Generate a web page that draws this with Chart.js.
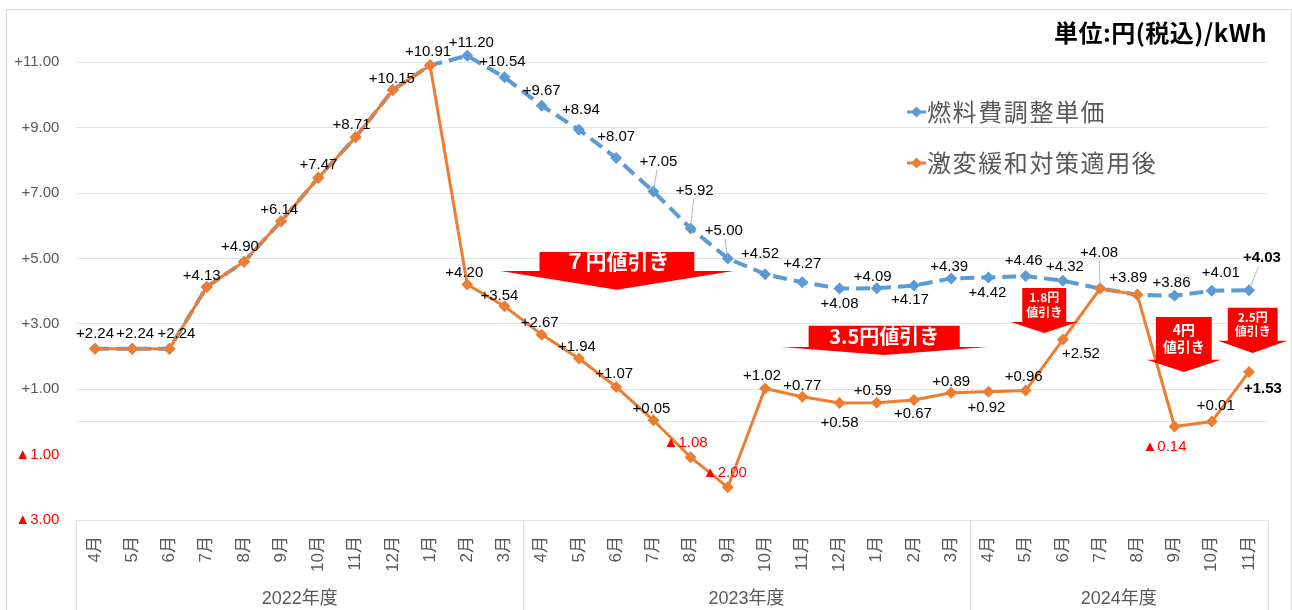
<!DOCTYPE html>
<html lang="ja">
<head>
<meta charset="utf-8">
<title>燃料費調整単価の推移</title>
<script src="https://cdn.jsdelivr.net/npm/chart.js@4.4.1/dist/chart.umd.min.js"></script>
<style>
  body { margin: 0; background: #fff; }
  #wrap { width: 1292px; height: 610px; }
</style>
</head>
<body>
<div id="wrap"><canvas id="myChart" width="1292" height="610"></canvas></div>
<script>
// dados do grafico
const meses = ['4月','5月','6月','7月','8月','9月','10月','11月','12月','1月','2月','3月',
               '4月','5月','6月','7月','8月','9月','10月','11月','12月','1月','2月','3月',
               '4月','5月','6月','7月','8月','9月','10月','11月'];
const anos = ['2022年度', '2023年度', '2024年度'];
const mesesPorAno = [12, 12, 8];

// 燃料費調整単価
const unitario = [2.24, 2.24, 2.24, 4.13, 4.90, 6.14, 7.47, 8.71, 10.15, 10.91,
                  11.20, 10.54, 9.67, 8.94, 8.07, 7.05, 5.92, 5.00, 4.52, 4.27, 4.08, 4.09,
                  4.17, 4.39, 4.42, 4.46, 4.32, 4.08, 3.89, 3.86, 4.01, 4.03];
// 激変緩和対策適用後
const aplicado = [2.24, 2.24, 2.24, 4.13, 4.90, 6.14, 7.47, 8.71, 10.15, 10.91,
                  4.20, 3.54, 2.67, 1.94, 1.07, 0.05, -1.08, -2.00, 1.02, 0.77, 0.58, 0.59,
                  0.67, 0.89, 0.92, 0.96, 2.52, 4.08, 3.89, -0.14, 0.01, 1.53];

const ticksY = [-3, -1, 0, 1, 3, 5, 7, 9, 11];
const nomes = ['燃料費調整単価', '激変緩和対策適用後'];
const unidade = '単位:円(税込)/kWh';

// onde fica cada rotulo em relacao ao ponto (px)
const posUnitario = [null, null, null, null, null, null, null, null, null, null,
  [4,-13], [-2,-15], [0,-15], [2,-20], [0,-21], [5,-30], [4,-38], [-4,-28], [-5,-20], [0,-18],
  [0,15], [-4,-11], [-4,14], [-2,-12], [-1,15], [-2,-15], [2,-14], null, null, [-3,-13], [9,-18], [13,-32]];
const posAplicado = [[0,-15], [3,-15], [7,-15], [-5,-11], [-4,-15], [-2,-11], [0,-13], [-4,-12], [-1,-11], [-2,-13],
  [-3,-12], [-5,-10], [-2,-12], [-2,-12], [-2,-13], [-2,-11], [-5,-14], [-3,-14], [-3,-13], [0,-11],
  [0,20], [-4,-12], [-1,14], [0,-11], [-2,16], [-2,-14], [18,14], [-1,-36], [-9,-17], [-10,20], [4,-16], [14,17]];

// setas de desconto (posicao em indice de mes / valor do eixo)
const setas = [
  { texto: ['７円値引き'], em: 14.02, topo: 5.2, base: 4.62, ponta: 4.04, meio: 2.08, cabeca: 3.13, fonte: 21 },
  { texto: ['3.5円値引き'], em: 21.2, topo: 2.94, base: 2.29, ponta: 2.05, meio: 2.03, cabeca: 2.77, fonte: 20 },
  { texto: ['1.8円', '値引き'], em: 25.5, topo: 4.1, base: 3.06, ponta: 2.72, meio: 0.59, cabeca: 0.9, fonte: 12 },
  { texto: ['4円', '値引き'], em: 29.25, topo: 3.21, base: 1.9, ponta: 1.53, meio: 0.75, cabeca: 1.0, fonte: 14 },
  { texto: ['2.5円', '値引き'], em: 31.1, topo: 3.49, base: 2.48, ponta: 2.11, meio: 0.67, cabeca: 0.93, fonte: 12 }
];

const azul = '#5B9BD5';
const laranja = '#ED7D31';
const cinza = '#595959';
const fonteNum = '"Liberation Sans", "Noto Sans CJK JP", sans-serif';
const fonteJp = '"Noto Sans CJK JP", sans-serif';

function formata(v) {
  return v < 0 ? '▲' + Math.abs(v).toFixed(2) : '+' + v.toFixed(2);
}

function losango(ctx, x, y, r, cor) {
  ctx.beginPath();
  ctx.moveTo(x, y - r); ctx.lineTo(x + r, y); ctx.lineTo(x, y + r); ctx.lineTo(x - r, y);
  ctx.closePath();
  ctx.fillStyle = cor;
  ctx.fill();
}

const desenho = {
  id: 'desenho',
  afterDatasetsDraw(chart) {
    const ctx = chart.ctx;
    const ex = chart.scales.x, ey = chart.scales.y;
    const passo = ex.getPixelForValue(1) - ex.getPixelForValue(0);

    // setas vermelhas
    setas.forEach(s => {
      const cx = ex.getPixelForValue(s.em);
      const t = ey.getPixelForValue(s.topo), b = ey.getPixelForValue(s.base), p = ey.getPixelForValue(s.ponta);
      const m = s.meio * passo, c = s.cabeca * passo;
      ctx.save();
      ctx.beginPath();
      ctx.moveTo(cx - m, t); ctx.lineTo(cx + m, t); ctx.lineTo(cx + m, b);
      ctx.lineTo(cx + c, b); ctx.lineTo(cx, p); ctx.lineTo(cx - c, b);
      ctx.lineTo(cx - m, b); ctx.closePath();
      ctx.fillStyle = '#FF0000';
      ctx.fill();
      ctx.fillStyle = '#fff';
      ctx.font = 'bold ' + s.fonte + 'px ' + fonteJp;
      ctx.textAlign = 'center';
      ctx.textBaseline = 'middle';
      const alt = s.fonte * 1.2;
      const y0 = (t + b) / 2 - (s.texto.length - 1) * alt / 2;
      s.texto.forEach((linha, i) => ctx.fillText(linha, cx, y0 + i * alt));
      ctx.restore();
    });

    // rotulos dos pontos
    const grupos = [[0, unitario, posUnitario], [1, aplicado, posAplicado]];
    grupos.forEach(([ds, valores, pos]) => {
      const meta = chart.getDatasetMeta(ds);
      meta.data.forEach((pt, i) => {
        const o = pos[i];
        if (!o) return;
        const lx = pt.x + o[0], ly = pt.y + o[1];
        ctx.save();
        if (Math.hypot(o[0], o[1]) > 24) {
          ctx.strokeStyle = '#a6a6a6';
          ctx.lineWidth = 0.8;
          ctx.beginPath();
          ctx.moveTo(pt.x, pt.y);
          ctx.lineTo(lx - o[0] * 0.25, ly + (o[1] < 0 ? 8 : -8));
          ctx.stroke();
        }
        const v = valores[i];
        ctx.font = (i === valores.length - 1 ? 'bold ' : '') + '15px ' + fonteNum;
        ctx.fillStyle = v < 0 ? '#FF0000' : '#000';
        ctx.textAlign = 'center';
        ctx.textBaseline = 'middle';
        ctx.fillText(formata(v), lx, ly);
        ctx.restore();
      });
    });
  },
  afterDraw(chart) {
    const ctx = chart.ctx;
    const ex = chart.scales.x;
    const area = chart.chartArea;
    ctx.save();

    // moldura
    ctx.strokeStyle = '#d9d9d9';
    ctx.lineWidth = 1;
    ctx.strokeRect(6.5, 9.5, 1285, 700);

    // divisoes dos anos
    ctx.strokeStyle = '#e0e0e0';
    let ini = 0;
    const cortes = [area.left];
    mesesPorAno.forEach(n => {
      ini += n;
      cortes.push(ex.getPixelForValue(ini - 0.5));
    });
    cortes[cortes.length - 1] = area.right;
    cortes.forEach(xx => {
      ctx.beginPath();
      ctx.moveTo(Math.round(xx) + 0.5, area.bottom);
      ctx.lineTo(Math.round(xx) + 0.5, 610);
      ctx.stroke();
    });
    ctx.fillStyle = cinza;
    ctx.font = '18px ' + fonteNum;
    ctx.textAlign = 'center';
    ctx.textBaseline = 'middle';
    anos.forEach((a, i) => ctx.fillText(a, (cortes[i] + cortes[i + 1]) / 2, 599));

    // legenda
    const cores = [azul, laranja];
    const ys = [112, 163];
    nomes.forEach((n, i) => {
      ctx.strokeStyle = cores[i];
      ctx.lineWidth = 3;
      ctx.beginPath();
      ctx.moveTo(907, ys[i]); ctx.lineTo(926, ys[i]);
      ctx.stroke();
      losango(ctx, 916.5, ys[i], 5.5, cores[i]);
      ctx.fillStyle = cinza;
      ctx.font = '24px ' + fonteJp;
      ctx.letterSpacing = '1.6px';
      ctx.textAlign = 'left';
      ctx.fillText(n, 927, ys[i]);
    });

    // unidade
    ctx.letterSpacing = '0.5px';
    ctx.fillStyle = '#000';
    ctx.font = 'bold 24px ' + fonteJp;
    ctx.textAlign = 'right';
    ctx.fillText(unidade, 1267, 33);
    ctx.restore();
  }
};

const grafico = new Chart(document.getElementById('myChart').getContext('2d'), {
  type: 'line',
  data: {
    labels: meses,
    datasets: [{
      label: nomes[0],
      data: unitario,
      borderColor: azul,
      backgroundColor: azul,
      borderWidth: 4,
      borderDash: [14, 7],
      pointStyle: 'rectRot',
      pointRadius: 6,
      pointBorderWidth: 0,
      order: 1
    },
    {
      label: nomes[1],
      data: aplicado,
      borderColor: laranja,
      backgroundColor: laranja,
      borderWidth: 3,
      pointStyle: 'rectRot',
      pointRadius: 6,
      pointBorderWidth: 0,
      order: 0
    }]
  },
  options: {
    responsive: false,
    animation: false,
    devicePixelRatio: 1,
    layout: { padding: { left: 0, right: 24.4, top: 10, bottom: 0 } },
    plugins: { legend: { display: false }, tooltip: { enabled: false } },
    scales: {
      x: {
        offset: true,
        grid: { display: false },
        border: { display: false },
        ticks: {
          autoSkip: false,
          minRotation: 90,
          maxRotation: 90,
          padding: 8,
          color: cinza,
          font: { family: fonteNum, size: 17 }
        },
        afterFit(scale) {
          scale.height = 90;
          scale.paddingLeft = 0;
          scale.paddingRight = 0;
        }
      },
      y: {
        min: -3,
        max: 12.6,
        afterBuildTicks(scale) { scale.ticks = ticksY.map(v => ({ value: v })); },
        grid: {
          drawTicks: false,
          lineWidth: 1,
          color: c => (c.tick && c.tick.value === -1) ? 'rgba(0,0,0,0)' : '#e3e3e3'
        },
        border: { display: false },
        ticks: {
          padding: 17,
          color: c => (c.tick && c.tick.value < 0) ? '#FF0000' : cinza,
          font: { family: fonteNum, size: 15 },
          callback: v => v === 0 ? '' : formata(v)
        },
        afterFit(scale) {
          scale.width = 76.4;
          scale.paddingTop = 0;
          scale.paddingBottom = 0;
        }
      }
    }
  },
  plugins: [desenho]
});
</script>
</body>
</html>
